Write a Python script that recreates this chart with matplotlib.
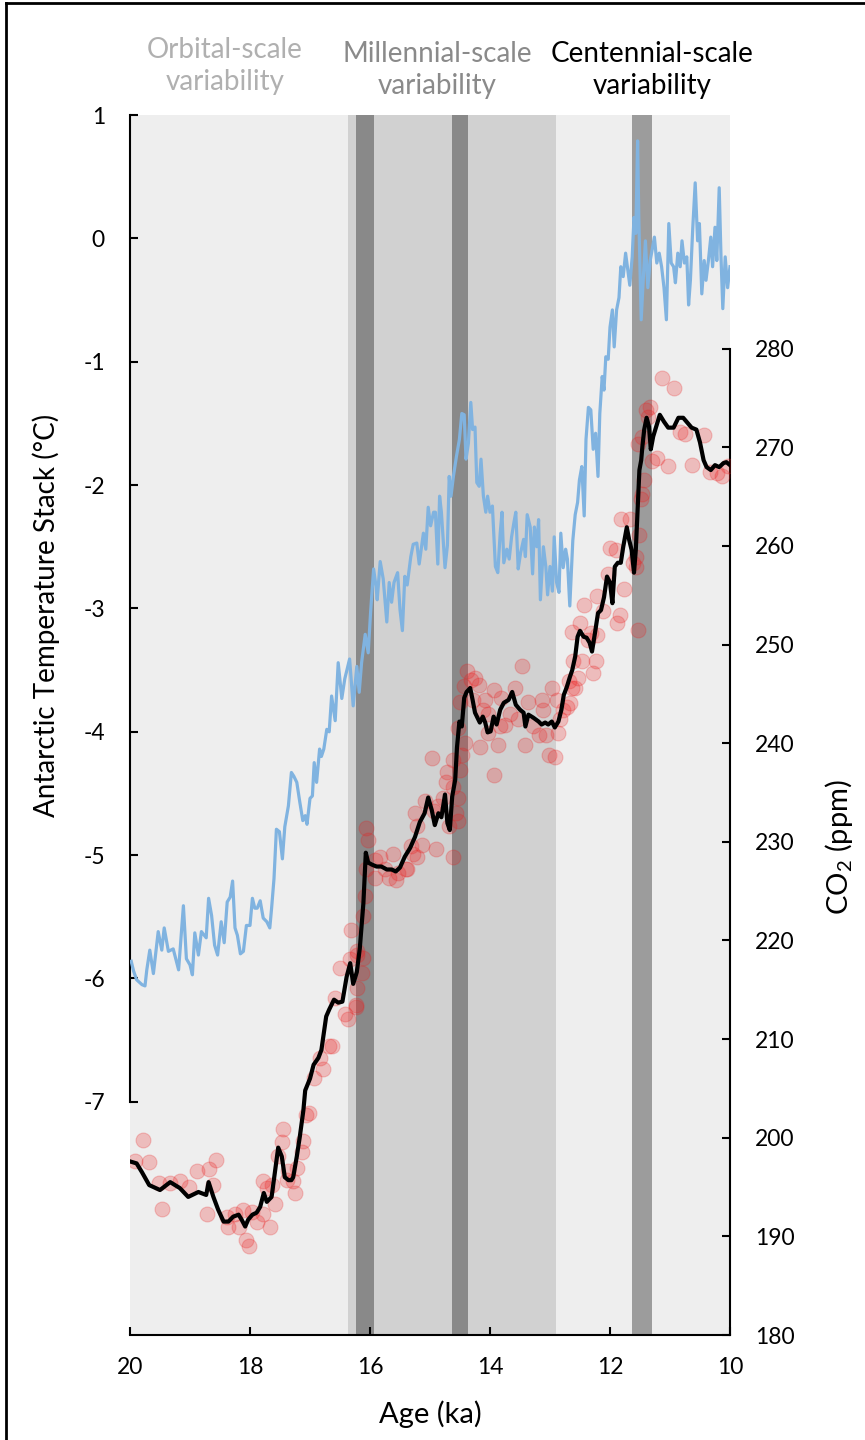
import matplotlib
matplotlib.use('Agg')
import matplotlib.pyplot as plt
from matplotlib.lines import Line2D

plt.rcParams['font.family'] = ['Lato', 'DejaVu Sans']
plt.rcParams['mathtext.fontset'] = 'custom'
plt.rcParams['mathtext.rm'] = 'Lato'

# Antarctic temperature stack (ka, degC)
temp_age = [19.98, 19.94, 19.89, 19.80, 19.75, 19.72, 19.67, 19.61, 19.53, 19.47, 19.43, 19.36, 19.28, 19.19,
            19.11, 19.06, 19.00, 18.96, 18.92, 18.86, 18.81, 18.73, 18.69, 18.64, 18.59, 18.54, 18.48, 18.43,
            18.38, 18.33, 18.29, 18.25, 18.21, 18.16, 18.11, 18.06, 18.00, 17.96, 17.92, 17.88, 17.83, 17.78,
            17.72, 17.67, 17.64, 17.60, 17.56, 17.51, 17.46, 17.42, 17.36, 17.31, 17.27, 17.22, 17.17, 17.12,
            17.08, 17.05, 17.00, 16.96, 16.93, 16.89, 16.84, 16.81, 16.77, 16.72, 16.68, 16.64, 16.58, 16.53,
            16.47, 16.42, 16.34, 16.28, 16.22, 16.18, 16.14, 16.08, 16.03, 15.99, 15.94, 15.90, 15.88, 15.83,
            15.78, 15.72, 15.68, 15.64, 15.60, 15.54, 15.50, 15.46, 15.42, 15.38, 15.32, 15.28, 15.22, 15.18,
            15.11, 15.07, 15.03, 14.99, 14.94, 14.91, 14.87, 14.84, 14.81, 14.75, 14.71, 14.68, 14.65, 14.61,
            14.56, 14.51, 14.47, 14.43, 14.40, 14.36, 14.32, 14.29, 14.25, 14.22, 14.18, 14.15, 14.11, 14.07,
            14.04, 14.00, 13.96, 13.91, 13.87, 13.83, 13.80, 13.77, 13.72, 13.68, 13.64, 13.60, 13.57, 13.53,
            13.49, 13.44, 13.41, 13.38, 13.33, 13.29, 13.26, 13.22, 13.19, 13.16, 13.11, 13.07, 13.04, 13.00,
            12.96, 12.93, 12.89, 12.85, 12.82, 12.78, 12.74, 12.71, 12.67, 12.62, 12.58, 12.54, 12.51, 12.47,
            12.43, 12.40, 12.36, 12.32, 12.28, 12.24, 12.20, 12.17, 12.13, 12.10, 12.07, 12.03, 12.00, 11.96,
            11.93, 11.89, 11.85, 11.82, 11.78, 11.74, 11.71, 11.67, 11.63, 11.60, 11.57, 11.54, 11.52, 11.48,
            11.44, 11.41, 11.37, 11.33, 11.29, 11.26, 11.22, 11.18, 11.14, 11.10, 11.06, 11.02, 10.98, 10.94,
            10.91, 10.87, 10.83, 10.80, 10.76, 10.72, 10.69, 10.66, 10.62, 10.58, 10.54, 10.51, 10.47, 10.43,
            10.40, 10.36, 10.32, 10.29, 10.25, 10.22, 10.18, 10.15, 10.12, 10.08, 10.04, 10.00]
temp_val = [-5.86, -5.94, -6.01, -6.05, -6.06, -5.93, -5.77, -5.96, -5.62, -5.77, -5.59, -5.78, -5.76, -5.93,
            -5.41, -5.84, -5.89, -5.97, -5.63, -5.81, -5.62, -5.67, -5.35, -5.49, -5.73, -5.81, -5.54, -5.71,
            -5.38, -5.34, -5.21, -5.59, -5.65, -5.80, -5.78, -5.57, -5.57, -5.35, -5.43, -5.43, -5.37, -5.51,
            -5.54, -5.59, -5.43, -5.19, -4.79, -4.81, -5.03, -4.77, -4.60, -4.33, -4.36, -4.41, -4.57, -4.72,
            -4.68, -4.75, -4.54, -4.52, -4.25, -4.41, -4.14, -4.20, -4.14, -3.98, -4.00, -3.71, -3.91, -3.44,
            -3.73, -3.57, -3.41, -3.79, -3.47, -3.68, -3.44, -3.21, -3.36, -3.03, -2.68, -2.82, -2.93, -2.62,
            -2.76, -3.11, -2.79, -2.95, -2.79, -2.71, -3.01, -3.18, -2.74, -2.81, -2.58, -2.48, -2.47, -2.64,
            -2.39, -2.52, -2.18, -2.33, -2.22, -2.22, -2.64, -2.09, -2.22, -2.67, -2.49, -1.93, -2.09, -1.93,
            -1.77, -1.63, -1.42, -1.43, -1.79, -1.66, -1.33, -1.55, -1.53, -1.98, -2.01, -1.79, -2.09, -2.22,
            -2.09, -2.22, -2.17, -2.66, -2.71, -2.39, -2.22, -2.63, -2.52, -2.60, -2.42, -2.30, -2.22, -2.68,
            -2.55, -2.44, -2.58, -2.24, -2.34, -2.72, -2.34, -2.50, -2.28, -2.93, -2.50, -2.66, -2.89, -2.66,
            -2.86, -2.42, -2.79, -2.87, -2.39, -2.67, -2.52, -2.60, -2.98, -2.45, -2.24, -2.14, -1.96, -1.85,
            -2.25, -1.63, -1.37, -1.39, -1.71, -1.58, -1.93, -1.42, -1.12, -1.23, -0.96, -0.98, -0.72, -0.58,
            -0.88, -0.58, -0.48, -0.23, -0.31, -0.12, -0.23, -0.38, -0.15, 0.17, 0.04, 0.79, 0.17, -0.66,
            -0.28, -0.02, -0.40, -0.18, -0.07, 0.01, -0.20, -0.12, -0.23, -0.40, -0.66, 0.12, -0.20, -0.23,
            -0.36, -0.12, -0.23, -0.02, -0.20, -0.15, -0.54, -0.34, 0.09, 0.45, -0.02, 0.12, -0.45, -0.18,
            -0.34, -0.18, 0.01, -0.23, 0.09, -0.18, 0.41, -0.15, -0.57, -0.15, -0.40, -0.23]

# CO2 spline (ka, ppm)
co2_age = [20.00, 19.89, 19.80, 19.68, 19.50, 19.33, 19.17, 19.03, 18.86, 18.73, 18.69, 18.61, 18.53, 18.44,
           18.36, 18.28, 18.19, 18.14, 18.08, 18.03, 17.96, 17.89, 17.83, 17.77, 17.72, 17.64, 17.58, 17.53,
           17.47, 17.42, 17.36, 17.31, 17.28, 17.22, 17.17, 17.11, 17.08, 17.00, 16.94, 16.86, 16.81, 16.73,
           16.68, 16.60, 16.53, 16.46, 16.39, 16.33, 16.28, 16.22, 16.17, 16.11, 16.07, 16.03, 15.97, 15.89,
           15.81, 15.72, 15.64, 15.57, 15.50, 15.42, 15.33, 15.25, 15.17, 15.09, 15.03, 14.97, 14.92, 14.86,
           14.81, 14.75, 14.71, 14.67, 14.63, 14.58, 14.55, 14.51, 14.47, 14.43, 14.39, 14.33, 14.29, 14.25,
           14.21, 14.17, 14.12, 14.08, 14.04, 13.99, 13.94, 13.89, 13.83, 13.77, 13.69, 13.63, 13.57, 13.50,
           13.44, 13.41, 13.36, 13.28, 13.19, 13.14, 13.08, 13.03, 12.97, 12.92, 12.86, 12.81, 12.77, 12.72,
           12.67, 12.63, 12.58, 12.54, 12.50, 12.44, 12.39, 12.34, 12.30, 12.25, 12.20, 12.15, 12.10, 12.05,
           12.00, 11.96, 11.92, 11.87, 11.82, 11.78, 11.72, 11.68, 11.64, 11.60, 11.57, 11.54, 11.51, 11.48,
           11.46, 11.43, 11.39, 11.35, 11.32, 11.28, 11.23, 11.17, 11.10, 11.03, 10.94, 10.86, 10.78, 10.71,
           10.64, 10.56, 10.50, 10.44, 10.39, 10.32, 10.25, 10.18, 10.11, 10.06, 10.00]
co2_val = [197.6, 197.4, 196.5, 195.2, 194.7, 195.5, 194.9, 194.0, 194.5, 194.2, 195.5, 194.0, 192.7, 191.5,
           191.5, 192.0, 192.2, 191.7, 191.0, 191.7, 192.2, 192.4, 193.0, 194.4, 193.5, 194.0, 196.7, 199.0,
           198.1, 196.0, 195.7, 195.7, 196.0, 198.1, 200.1, 202.8, 204.8, 206.0, 207.4, 208.1, 208.9, 212.3,
           213.0, 214.0, 213.7, 213.8, 216.3, 217.7, 215.6, 216.8, 219.2, 223.8, 228.9, 227.9, 227.7, 227.5,
           227.5, 227.2, 227.2, 227.0, 227.4, 228.5, 229.4, 230.5, 232.0, 232.9, 234.5, 233.2, 231.7, 232.9,
           232.5, 234.8, 231.9, 231.2, 234.6, 236.3, 239.6, 242.2, 241.7, 244.6, 245.2, 245.6, 244.4, 243.1,
           242.6, 242.1, 242.7, 242.1, 241.1, 241.2, 242.7, 241.9, 243.4, 244.1, 244.4, 245.2, 243.9, 243.4,
           243.1, 241.7, 242.9, 242.6, 242.2, 241.9, 242.1, 241.9, 242.2, 241.6, 242.2, 243.4, 244.9, 245.7,
           246.7, 247.4, 248.8, 250.8, 251.4, 250.8, 250.7, 250.2, 249.3, 251.2, 253.2, 253.5, 254.8, 256.9,
           256.3, 254.2, 257.9, 258.3, 258.3, 259.9, 261.9, 260.6, 259.6, 257.3, 259.6, 263.7, 267.7, 268.7,
           270.1, 271.8, 273.0, 272.1, 269.8, 271.1, 272.1, 273.3, 272.6, 272.0, 272.0, 273.0, 273.0, 272.5,
           272.0, 271.8, 270.5, 268.7, 268.0, 267.7, 268.2, 268.0, 268.4, 268.5, 268.2]

# CO2 measurements (ka, ppm)
meas_age = [19.92, 19.78, 19.68, 19.51, 19.46, 19.33, 19.16, 19.01, 18.88, 18.72, 18.68, 18.56, 18.61, 18.39,
            18.36, 18.25, 18.19, 18.11, 18.07, 18.01, 17.97, 17.89, 17.79, 17.78, 17.72, 17.66, 17.64, 17.58,
            17.53, 17.47, 17.45, 17.39, 17.36, 17.28, 17.25, 17.22, 17.14, 17.12, 17.06, 17.01, 16.94, 16.84,
            16.79, 16.68, 16.64, 16.58, 16.50, 16.42, 16.36, 16.33, 16.31, 16.24, 16.23, 16.22, 16.22, 16.21,
            16.14, 16.12, 16.11, 16.08, 16.07, 16.06, 16.03, 15.92, 15.92, 15.83, 15.75, 15.69, 15.62, 15.56,
            15.53, 15.40, 15.39, 15.31, 15.28, 15.25, 15.22, 15.22, 15.14, 15.08, 14.96, 14.94, 14.90, 14.86,
            14.78, 14.73, 14.72, 14.69, 14.62, 14.61, 14.61, 14.56, 14.53, 14.53, 14.53, 14.50, 14.50, 14.47,
            14.44, 14.42, 14.39, 14.31, 14.28, 14.25, 14.18, 14.17, 14.11, 14.08, 14.03, 14.03, 13.94, 13.93,
            13.86, 13.83, 13.81, 13.75, 13.67, 13.58, 13.53, 13.47, 13.42, 13.36, 13.28, 13.19, 13.14, 13.11,
            13.06, 13.01, 12.97, 12.92, 12.89, 12.86, 12.83, 12.78, 12.72, 12.69, 12.66, 12.64, 12.64, 12.61,
            12.58, 12.53, 12.50, 12.46, 12.43, 12.36, 12.31, 12.28, 12.23, 12.22, 12.21, 12.11, 12.03, 12.00,
            11.90, 11.89, 11.83, 11.77, 11.82, 11.67, 11.61, 11.56, 11.56, 11.54, 11.51, 11.49, 11.46, 11.43,
            11.53, 11.47, 11.40, 11.33, 11.36, 11.30, 11.22, 11.13, 10.93, 11.04, 10.84, 10.75, 10.64, 10.43,
            10.33, 10.22, 10.14, 10.03]
meas_val = [197.6, 199.8, 197.5, 195.4, 192.8, 195.4, 195.6, 195.0, 196.6, 192.3, 196.8, 197.7, 195.2, 192.0,
            191.0, 192.3, 191.0, 192.7, 189.6, 189.0, 192.5, 191.5, 192.3, 195.6, 194.9, 191.0, 195.2, 193.3,
            198.2, 199.6, 200.9, 195.7, 196.6, 195.6, 194.4, 196.9, 198.6, 199.7, 202.3, 202.5, 206.1, 208.1,
            207.0, 209.3, 209.3, 214.2, 217.2, 212.5, 212.0, 218.1, 221.1, 213.5, 213.3, 215.2, 218.9, 218.5,
            216.7, 218.2, 222.5, 224.5, 227.2, 231.4, 230.2, 228.2, 226.3, 228.5, 227.2, 226.3, 228.8, 226.1,
            226.8, 227.3, 227.2, 229.6, 228.8, 232.9, 228.5, 231.6, 229.7, 234.1, 238.5, 233.1, 229.3, 233.6,
            234.4, 236.1, 237.1, 231.6, 228.5, 235.6, 238.3, 232.9, 232.1, 234.4, 241.5, 237.3, 244.2, 238.8,
            245.8, 240.0, 247.3, 246.4, 244.4, 246.6, 245.9, 239.6, 243.4, 244.4, 241.0, 243.0, 236.8, 245.4,
            239.8, 241.7, 244.6, 241.9, 243.0, 245.6, 242.5, 247.8, 239.8, 244.2, 241.7, 240.8, 244.4, 243.4,
            240.8, 238.8, 245.6, 238.6, 244.4, 241.0, 242.5, 243.4, 243.7, 246.3, 244.1, 245.6, 251.3, 248.3,
            245.6, 246.6, 252.2, 248.3, 254.0, 250.5, 251.2, 247.1, 248.3, 254.9, 251.0, 253.4, 257.2, 259.8,
            259.6, 252.2, 253.0, 255.6, 262.7, 262.7, 258.3, 258.9, 257.9, 251.5, 261.1, 264.8, 265.3, 266.7,
            270.3, 271.1, 273.8, 274.1, 273.1, 268.6, 268.9, 277.0, 276.0, 268.1, 271.6, 271.4, 268.2, 271.3,
            267.5, 267.4, 267.1, 268.1]

# shaded intervals (ka)
millennial_band = (16.37, 12.9)
dark_bands = [(16.23, 15.93), (14.63, 14.37)]
centennial_band = (11.63, 11.3)

fig = plt.figure(figsize=(8.65, 14.4), dpi=100)
ax = fig.add_axes([130 / 865, 1 - 1335 / 1440, 600 / 865, 1220 / 1440])
ax.set_facecolor('none')

ax.axvspan(20, 10, color='#eeeeee', lw=0, zorder=0)
ax.axvspan(*millennial_band, color='#d1d1d1', lw=0, zorder=0)
for b in dark_bands:
    ax.axvspan(*b, color='#898989', lw=0, zorder=0)
ax.axvspan(*centennial_band, color='#9c9c9c', lw=0, zorder=0)

ax.plot(temp_age, temp_val, color='#80b3e0', lw=2.3, zorder=3)

ax.set_xlim(20, 10)
ax.set_ylim(-8.89, 1)
ax.set_xticks([20, 18, 16, 14, 12, 10])
ax.set_yticks([1, 0, -1, -2, -3, -4, -5, -6, -7])
ax.set_yticklabels(['1', '0', '-1', '-2', '-3', '-4', '-5', '-6', '-7'])
ax.spines['left'].set_bounds(-7, 1)
ax.spines['top'].set_visible(False)
ax.spines['right'].set_visible(False)
for s in ['left', 'bottom']:
    ax.spines[s].set_linewidth(1.5)
ax.tick_params(axis='both', direction='in', length=6, width=1.5, labelsize=16.5)
ax.tick_params(axis='y', pad=18)
ax.tick_params(axis='x', pad=16)
ax.set_xlabel('Age (ka)', fontsize=21, labelpad=16)
ax.set_ylabel('Antarctic Temperature Stack (°C)', fontsize=20)
ax.yaxis.set_label_coords(-0.117, 0.59)

ax2 = ax.twinx()
ax2.scatter(meas_age, meas_val, s=115, color=(0.92, 0.12, 0.12), alpha=0.24, lw=0.8, zorder=3)
ax2.plot(co2_age, co2_val, color='black', lw=3.0, zorder=4)
ax2.set_ylim(180, 303.7)
ax2.set_yticks([180, 190, 200, 210, 220, 230, 240, 250, 260, 270, 280])
ax2.spines['right'].set_bounds(180, 280)
ax2.spines['right'].set_linewidth(1.5)
for s in ['left', 'top', 'bottom']:
    ax2.spines[s].set_visible(False)
ax2.tick_params(axis='y', direction='in', length=6, width=1.5, labelsize=16.5, pad=18)
ax2.set_ylabel('CO$\\mathregular{_2}$ (ppm)', fontsize=21)
ax2.yaxis.set_label_coords(1.155, 0.40)

fig.text(225 / 865, 1 - 66 / 1440, 'Orbital-scale\nvariability', color='#b0b0b0', fontsize=20,
         ha='center', va='center', linespacing=1.3)
fig.text(437 / 865, 1 - 70 / 1440, 'Millennial-scale\nvariability', color='#8a8a8a', fontsize=20,
         ha='center', va='center', linespacing=1.3)
fig.text(652 / 865, 1 - 70 / 1440, 'Centennial-scale\nvariability', color='black', fontsize=20,
         ha='center', va='center', linespacing=1.3)

# frame around the figure (left and top edges)
fig.add_artist(Line2D([6 / 865, 6 / 865], [0, 1 - 3 / 1440], transform=fig.transFigure, color='black', lw=2))
fig.add_artist(Line2D([6 / 865, 1], [1 - 3 / 1440, 1 - 3 / 1440], transform=fig.transFigure, color='black', lw=2))

fig.savefig('out.png', dpi=100)
